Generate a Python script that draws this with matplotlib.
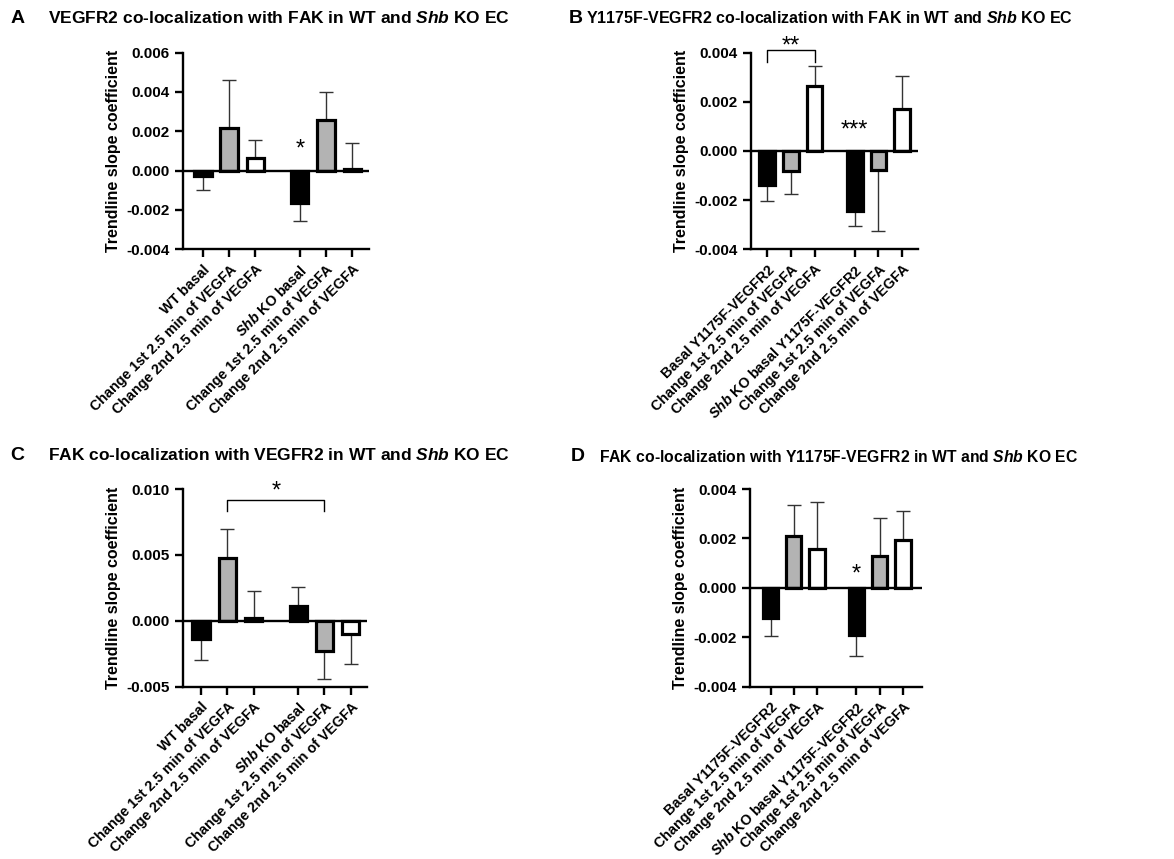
import numpy as np
import matplotlib
matplotlib.use("Agg")
import matplotlib.pyplot as plt
import matplotlib.transforms as mtrans

plt.rcParams['font.family'] = ['Liberation Sans', 'DejaVu Sans']
plt.rcParams['font.weight'] = 'bold'
plt.rcParams['mathtext.fontset'] = 'custom'
plt.rcParams['mathtext.rm'] = 'Liberation Sans:bold'
plt.rcParams['mathtext.bf'] = 'Liberation Sans:bold'
plt.rcParams['mathtext.it'] = 'Liberation Sans:italic:bold'

# tick labels
labels_wt = ["WT basal", "Change 1st 2.5 min of VEGFA", "Change 2nd 2.5 min of VEGFA",
             "$\\mathit{Shb}$ KO basal", "Change 1st 2.5 min of VEGFA", "Change 2nd 2.5 min of VEGFA"]
labels_y = ["Basal Y1175F-VEGFR2", "Change 1st 2.5 min of VEGFA", "Change 2nd 2.5 min of VEGFA",
            "$\\mathit{Shb}$ KO basal Y1175F-VEGFR2", "Change 1st 2.5 min of VEGFA",
            "Change 2nd 2.5 min of VEGFA"]

# means and error (one-sided, SEM)
mean_a = [-0.00025, 0.00215, 0.00065, -0.00164, 0.00255, 0.0001]
err_a = [0.00075, 0.00245, 0.00093, 0.0009, 0.00145, 0.00133]
mean_b = [-0.0014, -0.0008, 0.00264, -0.00243, -0.00077, 0.00172]
err_b = [0.00063, 0.00095, 0.0008, 0.00062, 0.00247, 0.00132]
mean_c = [-0.00136, 0.00477, 0.0002, 0.00109, -0.00227, -0.00101]
err_c = [0.00159, 0.00218, 0.00205, 0.00144, 0.00215, 0.00225]
mean_d = [-0.00123, 0.00209, 0.00156, -0.0019, 0.00127, 0.00193]
err_d = [0.00071, 0.00128, 0.00192, 0.00084, 0.00154, 0.0012]

colors = ['black', '#b3b3b3', 'white', 'black', '#b3b3b3', 'white']
xpos = np.array([0, 1, 2, 3.7, 4.7, 5.7])

fig = plt.figure(figsize=(11.74, 8.59), dpi=100)


def panel(rect, means, errs, labels, ylim, yticks, fmt, xlim):
    ax = fig.add_axes(rect)
    means = np.array(means)
    errs = np.array(errs)
    lo = np.where(means < 0, errs, 0)
    hi = np.where(means >= 0, errs, 0)
    ax.errorbar(xpos, means, yerr=[lo, hi], fmt='none', ecolor='#333333',
                elinewidth=1, capsize=5, capthick=1, zorder=1)
    ax.bar(xpos, means, width=0.66, color=colors, edgecolor='black',
           linewidth=2.3, zorder=2)
    ax.axhline(0, color='black', lw=1.7, zorder=3)
    ax.set_ylim(ylim)
    ax.set_xlim(xlim)
    ax.set_yticks(yticks)
    ax.set_yticklabels([fmt % v for v in yticks], fontsize=11, fontweight='bold')
    ax.set_xticks(xpos)
    ax.set_xticklabels(labels, rotation=45, ha='right', rotation_mode='anchor',
                       fontsize=10.3, fontweight='bold')
    shift = mtrans.ScaledTranslation(4 / 72, 0, fig.dpi_scale_trans)
    for lab in ax.get_xticklabels():
        lab.set_transform(lab.get_transform() + shift)
    ax.spines['top'].set_visible(False)
    ax.spines['right'].set_visible(False)
    ax.spines['left'].set_linewidth(1.7)
    ax.spines['bottom'].set_linewidth(1.7)
    ax.tick_params(width=1.7, length=6)
    ax.set_ylabel("Trendline slope coefficient", fontsize=11.5, fontweight='bold', labelpad=4)
    return ax


axA = panel([0.1559, 0.7098, 0.1584, 0.2289], mean_a, err_a, labels_wt,
            (-0.004, 0.006), [-0.004, -0.002, 0, 0.002, 0.004, 0.006], '%.3f', (-0.76, 6.34))
axA.text(xpos[3], 0.00105, '*', ha='center', va='center', fontsize=17, fontweight='normal')

axB = panel([0.6397, 0.7098, 0.1425, 0.2289], mean_b, err_b, labels_y,
            (-0.004, 0.004), [-0.004, -0.002, 0, 0.002, 0.004], '%.3f', (-0.68, 6.38))
axB.plot([xpos[0], xpos[0], xpos[2], xpos[2]], [0.00364, 0.00411, 0.00411, 0.00364],
         color='black', lw=1, clip_on=False)
axB.text(xpos[1], 0.00425, '**', ha='center', va='center', fontsize=17,
         fontweight='normal', clip_on=False)
axB.text(xpos[3], 0.00082, '***', ha='center', va='center', fontsize=17, fontweight='normal')

axC = panel([0.1556, 0.2006, 0.1570, 0.2301], mean_c, err_c, labels_wt,
            (-0.005, 0.010), [-0.005, 0, 0.005, 0.010], '%.3f', (-0.70, 6.32))
axC.plot([xpos[1], xpos[1], xpos[4], xpos[4]], [0.0083, 0.0092, 0.0092, 0.0083],
         color='black', lw=1)
axC.text((xpos[1] + xpos[4]) / 2, 0.0098, '*', ha='center', va='center', fontsize=17,
         fontweight='normal')

axD = panel([0.6388, 0.2006, 0.1463, 0.2301], mean_d, err_d, labels_y,
            (-0.004, 0.004), [-0.004, -0.002, 0, 0.002, 0.004], '%.3f', (-0.89, 6.51))
axD.text(xpos[3], 0.00053, '*', ha='center', va='center', fontsize=17, fontweight='normal')

# panel titles
fig.text(0.009, 0.979, 'A', fontsize=14, fontweight='bold', va='center')
fig.text(0.041, 0.979, 'VEGFR2 co-localization with FAK in WT and $\\mathit{Shb}$ KO EC',
         fontsize=12.5, fontweight='bold', va='center')
fig.text(0.4845, 0.979, 'B', fontsize=14, fontweight='bold', va='center')
fig.text(0.4995, 0.979, 'Y1175F-VEGFR2 co-localization with FAK in WT and $\\mathit{Shb}$ KO EC',
         fontsize=11.5, fontweight='bold', va='center')
fig.text(0.009, 0.470, 'C', fontsize=14, fontweight='bold', va='center')
fig.text(0.041, 0.470, 'FAK co-localization with VEGFR2 in WT and $\\mathit{Shb}$ KO EC',
         fontsize=12.5, fontweight='bold', va='center')
fig.text(0.4865, 0.468, 'D', fontsize=14, fontweight='bold', va='center')
fig.text(0.510, 0.468, 'FAK co-localization with Y1175F-VEGFR2 in WT and $\\mathit{Shb}$ KO EC',
         fontsize=11.3, fontweight='bold', va='center')

fig.savefig('out.png', dpi=100)
